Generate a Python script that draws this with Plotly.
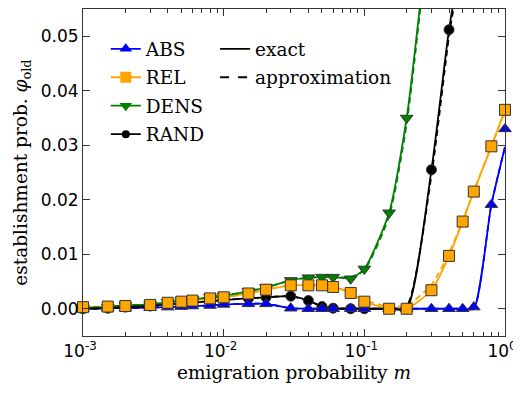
import plotly.graph_objects as go

# emigration probabilities (x)
m = [0.001, 0.0015, 0.002, 0.003, 0.004, 0.005, 0.006, 0.008, 0.01, 0.015, 0.02,
     0.03, 0.04, 0.05, 0.06, 0.08, 0.1, 0.15, 0.2, 0.3, 0.4, 0.5, 0.6, 0.8, 1.0]

# simulated establishment probabilities (markers)
abs_sim = [0.0, 0.0001, 0.0001, 0.0002, 0.0003, 0.0004, 0.0005, 0.0006, 0.0008, 0.0009, 0.0009,
           0.0001, 0.0, 0.0, 0.0, 0.0, 0.0, 0.0, 0.0, 0.0, 0.0, 0.0, 0.0003, 0.0191, 0.0330]
rel_sim = [0.0003, 0.0004, 0.0005, 0.0007, 0.0011, 0.0013, 0.0015, 0.0019, 0.0021, 0.0028, 0.0035,
           0.0043, 0.0043, 0.0043, 0.0040, 0.0029, 0.0013, 0.0, 0.0, 0.0034, 0.0097, 0.0160, 0.0215, 0.0298, 0.0365]
dens_sim = [0.0002, 0.0003, 0.0006, 0.0008, 0.0012, 0.0015, 0.0017, 0.0021, 0.0024, 0.0032, 0.0039,
            0.0052, 0.0057, 0.0058, 0.0058, 0.0055, 0.0073, 0.0176, 0.0350, None, None, None, None, None, None]
rand_sim = [0.0, 0.0001, 0.0003, 0.0005, 0.0008, 0.0010, 0.0011, 0.0014, 0.0016, 0.0019, 0.0021,
            0.0023, 0.0015, 0.0004, 0.0001, 0.0, 0.0, 0.0, 0.0, 0.0255, 0.0512, None, None, None, None]

# exact curves
abs_exact = [0.0, 0.0001, 0.0001, 0.0002, 0.0003, 0.0004, 0.0005, 0.0006, 0.0008, 0.0009, 0.0009,
             0.0001, 0.0, 0.0, 0.0, 0.0, 0.0, 0.0, 0.0, 0.0, 0.0, 0.0, 0.0, 0.0191, 0.0297]
rel_exact = rel_sim
dens_exact = [0.0002, 0.0003, 0.0006, 0.0008, 0.0012, 0.0015, 0.0017, 0.0021, 0.0024, 0.0032, 0.0039,
              0.0052, 0.0057, 0.0058, 0.0058, 0.0056, 0.0073, 0.0176, 0.0350, 0.0750, None, None, None, None, None]
rand_exact = [0.0, 0.0001, 0.0003, 0.0005, 0.0008, 0.0010, 0.0011, 0.0014, 0.0016, 0.0019, 0.0021,
              0.0023, 0.0015, 0.0004, 0.0001, 0.0, 0.0, 0.0, 0.0, 0.0255, 0.0512, 0.0660, None, None, None]

# approximation curves
abs_approx = abs_exact
rel_approx = [0.0003, 0.0004, 0.0005, 0.0007, 0.0011, 0.0013, 0.0015, 0.0019, 0.0021, 0.0028, 0.0035,
              0.0043, 0.0043, 0.0043, 0.0040, 0.0030, 0.0016, 0.0004, 0.0006, 0.0044, 0.0102, 0.0162, 0.0216, 0.0298, 0.0362]
dens_approx = [0.0002, 0.0003, 0.0006, 0.0008, 0.0012, 0.0015, 0.0017, 0.0021, 0.0024, 0.0032, 0.0039,
               0.0052, 0.0057, 0.0058, 0.0058, 0.0058, 0.0071, 0.0170, 0.0340, 0.0740, None, None, None, None, None]
rand_approx = [0.0, 0.0001, 0.0003, 0.0005, 0.0008, 0.0010, 0.0011, 0.0014, 0.0016, 0.0019, 0.0021,
               0.0023, 0.0015, 0.0004, 0.0001, 0.0, 0.0, 0.0, 0.0005, 0.0245, 0.0500, 0.0650, None, None, None]

series_names = ["ABS", "REL", "DENS", "RAND"]
x_tick_vals = [0.001, 0.01, 0.1, 1.0]
x_tick_text = ["10<sup>-3</sup>", "10<sup>-2</sup>", "10<sup>-1</sup>", "10<sup>0</sup>"]
x_minor_vals = [k * 10 ** e for e in (-3, -2, -1) for k in range(2, 10)]
y_tick_vals = [0.0, 0.01, 0.02, 0.03, 0.04, 0.05]

colors = {"ABS": "#0000ff", "REL": "#ffa500", "DENS": "#008000", "RAND": "#000000"}
symbols = {"ABS": "triangle-up", "REL": "square", "DENS": "triangle-down", "RAND": "circle"}
sizes = {"ABS": 11, "REL": 11, "DENS": 11, "RAND": 10}
sim = {"ABS": abs_sim, "REL": rel_sim, "DENS": dens_sim, "RAND": rand_sim}
exact = {"ABS": abs_exact, "REL": rel_exact, "DENS": dens_exact, "RAND": rand_exact}
approx = {"ABS": abs_approx, "REL": rel_approx, "DENS": dens_approx, "RAND": rand_approx}

fig = go.Figure()
LW = 1.8
for name in series_names:
    fig.add_trace(go.Scatter(x=m, y=approx[name], mode="lines", showlegend=False,
                             line=dict(color=colors[name], width=LW, dash="6px,4px", shape="spline", smoothing=0.6)))
    fig.add_trace(go.Scatter(x=m, y=exact[name], mode="lines", showlegend=False,
                             line=dict(color=colors[name], width=LW, shape="spline", smoothing=0.6)))

for name in ["RAND", "ABS", "DENS", "REL"]:
    fig.add_trace(go.Scatter(x=m, y=sim[name], mode="markers", showlegend=False, cliponaxis=False,
                             marker=dict(symbol=symbols[name], size=sizes[name], color=colors[name],
                                         line=dict(color="#333333", width=1))))

# legend entries
for i, name in enumerate(series_names):
    fig.add_trace(go.Scatter(x=[None], y=[None], mode="lines+markers", name=name,
                             legendgroup=name, legend="legend",
                             line=dict(color=colors[name], width=LW),
                             marker=dict(symbol=symbols[name], size=11 if name != "RAND" else 8,
                                         color=colors[name], line=dict(width=0))))
for name, dash in [("exact", "solid"), ("approximation", "dash")]:
    fig.add_trace(go.Scatter(x=[None], y=[None], mode="lines", name=name,
                             legendgroup=name, legend="legend2",
                             line=dict(color="black", width=LW, dash=dash)))

serif = "DejaVu Serif"
fig.update_layout(
    width=513, height=386,
    margin=dict(l=75, r=16, t=1, b=58, autoexpand=False),
    paper_bgcolor="white", plot_bgcolor="white",
    font=dict(family="DejaVu Sans", size=17, color="black"),
    legend=dict(x=0.054, y=0.935, xanchor="left", yanchor="top", bgcolor="rgba(0,0,0,0)",
                font=dict(family=serif, size=18.5), traceorder="grouped", tracegroupgap=1.4,
                itemwidth=30),
    legend2=dict(x=0.313, y=0.935, xanchor="left", yanchor="top", bgcolor="rgba(0,0,0,0)",
                 font=dict(family=serif, size=18.5), traceorder="grouped", tracegroupgap=1.4,
                 itemwidth=30),
    xaxis=dict(type="log", range=[-3, 0], tickmode="array", tickvals=x_tick_vals, ticktext=x_tick_text,
               ticks="inside", ticklen=7, tickwidth=1, tickcolor="#333", showline=True, linecolor="#333", linewidth=1,
               mirror="ticks", showgrid=False, zeroline=False, automargin=False, ticklabelshift=-3,
               minor=dict(ticks="inside", ticklen=4, tickwidth=1, tickcolor="#333", tickvals=x_minor_vals, showgrid=False),
               title=dict(text="emigration probability <i>m</i>", font=dict(family=serif, size=18.5), standoff=5)),
    yaxis=dict(range=[-0.005, 0.055], tickmode="array", tickvals=y_tick_vals, tickformat=".2f",
               ticks="inside", ticklen=7, tickwidth=1, tickcolor="#333", showline=True, linecolor="#333", linewidth=1,
               mirror="ticks", showgrid=False, zeroline=False, automargin=False,
               title=dict(text="establishment prob. <i>φ</i><sub>old</sub>", font=dict(family=serif, size=18.5), standoff=8)),
)

fig.write_html("out.html")
